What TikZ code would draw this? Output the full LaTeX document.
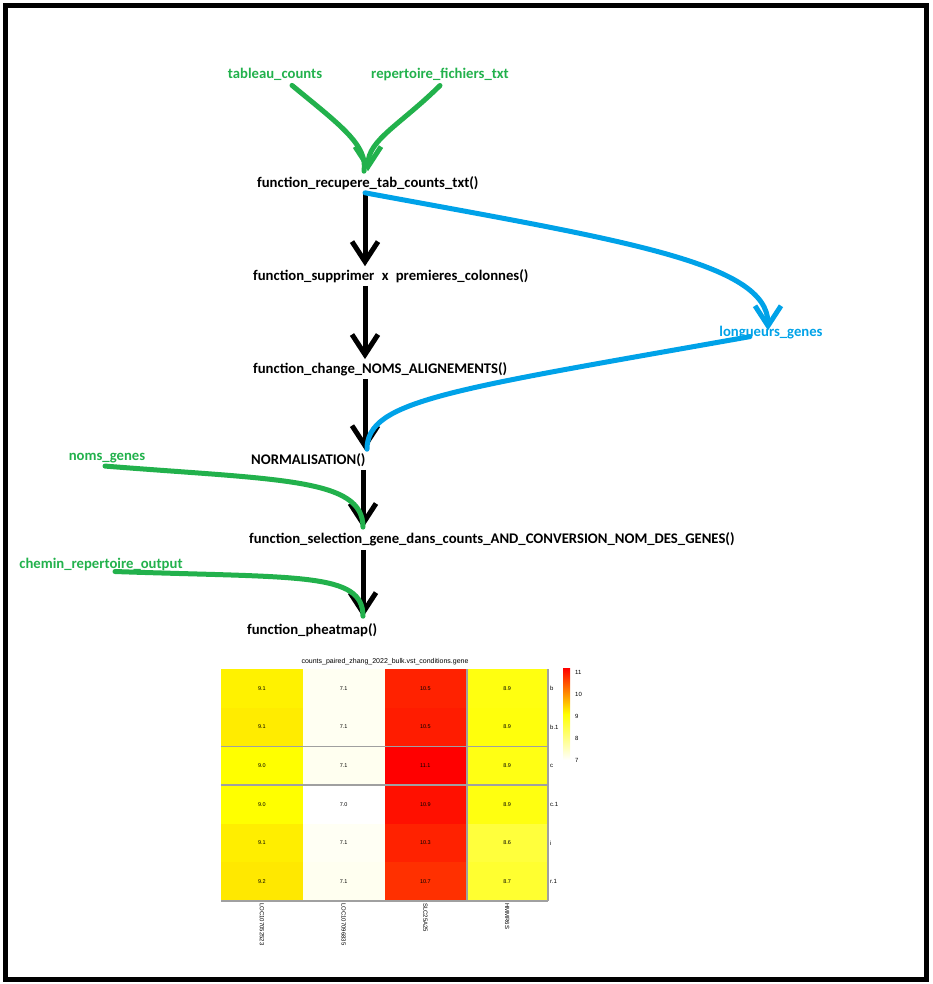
\documentclass[tikz,border=0pt]{standalone}
\usepackage{fontspec}
\setmainfont{Carlito}
\newfontfamily\heatfont{Liberation Sans}
\usetikzlibrary{arrows.meta}
\definecolor{paintgreen}{HTML}{22B14C}
\definecolor{paintblue}{HTML}{00A2E8}
\definecolor{gridgray}{HTML}{A0A0A0}
\begin{document}
\begin{tikzpicture}[x=1pt,y=-1pt,
    fonction/.style={anchor=west,inner sep=0pt,font=\fontsize{14.7}{16}\selectfont\bfseries},
    entree/.style={inner sep=0pt,text=paintgreen,font=\fontsize{14.7}{16}\selectfont\bfseries},
    sortie/.style={inner sep=0pt,text=paintblue,font=\fontsize{14.7}{16}\selectfont\bfseries},
    vtip/.style={-{Straight Barb[length=20pt,width=26pt]}},
    fleche/.style={line width=5pt,vtip},
    flux/.style={line width=5pt,line cap=round},
    cellnum/.style={font=\heatfont\fontsize{5.5}{6}\selectfont,inner sep=0pt},
    petit/.style={font=\heatfont\fontsize{6}{7}\selectfont,inner sep=0pt}]
  \useasboundingbox (0,0) rectangle (932,984);
  \draw[line width=5pt] (5.5,5.5) rectangle (926.5,979.5);
  \coordinate (spine) at (365,0);
  \coordinate (spineb) at (363,0);
  % entrees et fonctions
  \node[entree] (tab) at (275,74) {tableau\_counts};
  \node[entree] (rep) at (440,74) {repertoire\_fichiers\_txt};
  \node[fonction] (recup) at (257,183) {function\_recupere\_tab\_counts\_txt()};
  \node[fonction] (suppr) at (253,276) {function\_supprimer\phantom{\_}x\phantom{\_}premieres\_colonnes()};
  \node[fonction] (noms) at (253,369) {function\_change\_NOMS\_ALIGNEMENTS()};
  \node[sortie] (long) at (771,333) {longueurs\_genes};
  \node[fonction] (norm) at (251,460) {NORMALISATION()};
  \node[entree] (ngenes) at (107,458) {noms\_genes};
  \node[fonction] (select) at (249,539) {function\_selection\_gene\_dans\_counts\_AND\_CONVERSION\_NOM\_DES\_GENES()};
  \node[entree] (chemin) at (101,564) {chemin\_repertoire\_output};
  \node[fonction] (pheat) at (247,630) {function\_pheatmap()};
  % fleches noires
  \draw[fleche] ([yshift=-3pt]spine |- recup.south) -- ([yshift=3pt]spine |- suppr.north);
  \draw[fleche] ([yshift=-3pt]spine |- suppr.south) -- ([yshift=3pt]spine |- noms.north);
  \draw[fleche] ([yshift=-3pt]spine |- noms.south) -- ([yshift=3pt]spine |- norm.north);
  \draw[fleche] ([yshift=-3pt]spineb |- norm.south) -- ([yshift=4pt]spineb |- select.north);
  \draw[fleche] ([yshift=-4pt]spineb |- select.south) -- ([yshift=6pt]spineb |- pheat.north);
  % fleches vertes
  \draw[flux,paintgreen] ([xshift=17pt,yshift=-5pt]tab.south) .. controls (340,125) and (368,145) .. ([xshift=-1pt,yshift=5pt]recup.north -| spine);
  \draw[flux,paintgreen,vtip] ([yshift=-5pt]rep.south) .. controls (400,125) and (368,140) .. ([xshift=3pt,yshift=5pt]recup.north -| spine);
  \draw[flux,paintgreen] ([xshift=-2pt,yshift=-3pt]ngenes.south) .. controls (280,480) and (363,478) .. ([yshift=5pt]spineb |- select.north);
  \draw[flux,paintgreen] ([xshift=14pt,yshift=-1pt]chemin.south) .. controls (300,578) and (363,572) .. ([yshift=7pt]spineb |- pheat.north);
  % fleches bleues
  \draw[flux,paintblue,vtip] ([yshift=-3pt]spine |- recup.south) .. controls (620,240) and (768,262) .. ([xshift=-3pt,yshift=-4pt]long.north);
  \draw[flux,paintblue] ([xshift=-21pt,yshift=3pt]long.south) .. controls (450,390) and (367,400) .. ([xshift=2pt,yshift=4pt]spine |- norm.north);
  % heatmap
  \node[font=\heatfont\fontsize{7}{8}\selectfont,inner sep=0pt] (titre) at (385,662) {counts\_paired\_zhang\_2022\_bulk.vst\_conditions.gene};
  \foreach \col/\row/\hex/\val in {
      1/1/FFF200/9.1, 1/2/FFEC00/9.1, 1/3/FFFF00/9.0, 1/4/FFFF00/9.0, 1/5/FFEE00/9.1, 1/6/FFE800/9.2,
      2/1/FFFFF2/7.1, 2/2/FFFFF2/7.1, 2/3/FFFFF0/7.1, 2/4/FFFFFF/7.0, 2/5/FFFFF4/7.1, 2/6/FFFFF0/7.1,
      3/1/FF2200/10.5, 3/2/FF1C00/10.5, 3/3/FF0000/11.1, 3/4/FF1000/10.9, 3/5/FF2200/10.3, 3/6/FF3000/10.7,
      4/1/FFFF10/8.9, 4/2/FFFF0C/8.9, 4/3/FFFF14/8.9, 4/4/FFFF10/8.9, 4/5/FFFF3C/8.6, 4/6/FFFF30/8.7} {
    \definecolor{cellc}{HTML}{\hex}
    \fill[cellc] ({221+(\col-1)*81.75},{669+(\row-1)*38.67}) rectangle ++(81.75,38.67);
    \node[cellnum] (v\col\row) at ({221+(\col-0.5)*81.75},{669+(\row-0.5)*38.67}) {\val};
  }
  \draw[gridgray,line width=1.5pt] (221,746.3) -- (548,746.3) (221,785) -- (548,785)
    (467,669) -- (467,901) (548,669) -- (548,901) (221,901) -- (548,901);
  \foreach \lab [count=\r] in {b,b.1,c,c.1,i,r.1}
    \node[petit,anchor=west] (ligne\r) at (550,{669+(\r-0.5)*38.67}) {\lab};
  \foreach \lab [count=\c] in {LOC107052523,LOC107096835,SLC25A25,HMMR6S}
    \node[petit,anchor=west,rotate=-90] (gene\c) at ({221+(\c-0.5)*81.75},903) {\lab};
  % legende
  \shade[top color=red,bottom color=white,middle color=yellow] (563,668) rectangle (570,760);
  \foreach \lab [count=\k] in {11,10,9,8,7}
    \node[petit,anchor=west] (leg\k) at (575,{672+(\k-1)*22}) {\lab};
\end{tikzpicture}
\end{document}
